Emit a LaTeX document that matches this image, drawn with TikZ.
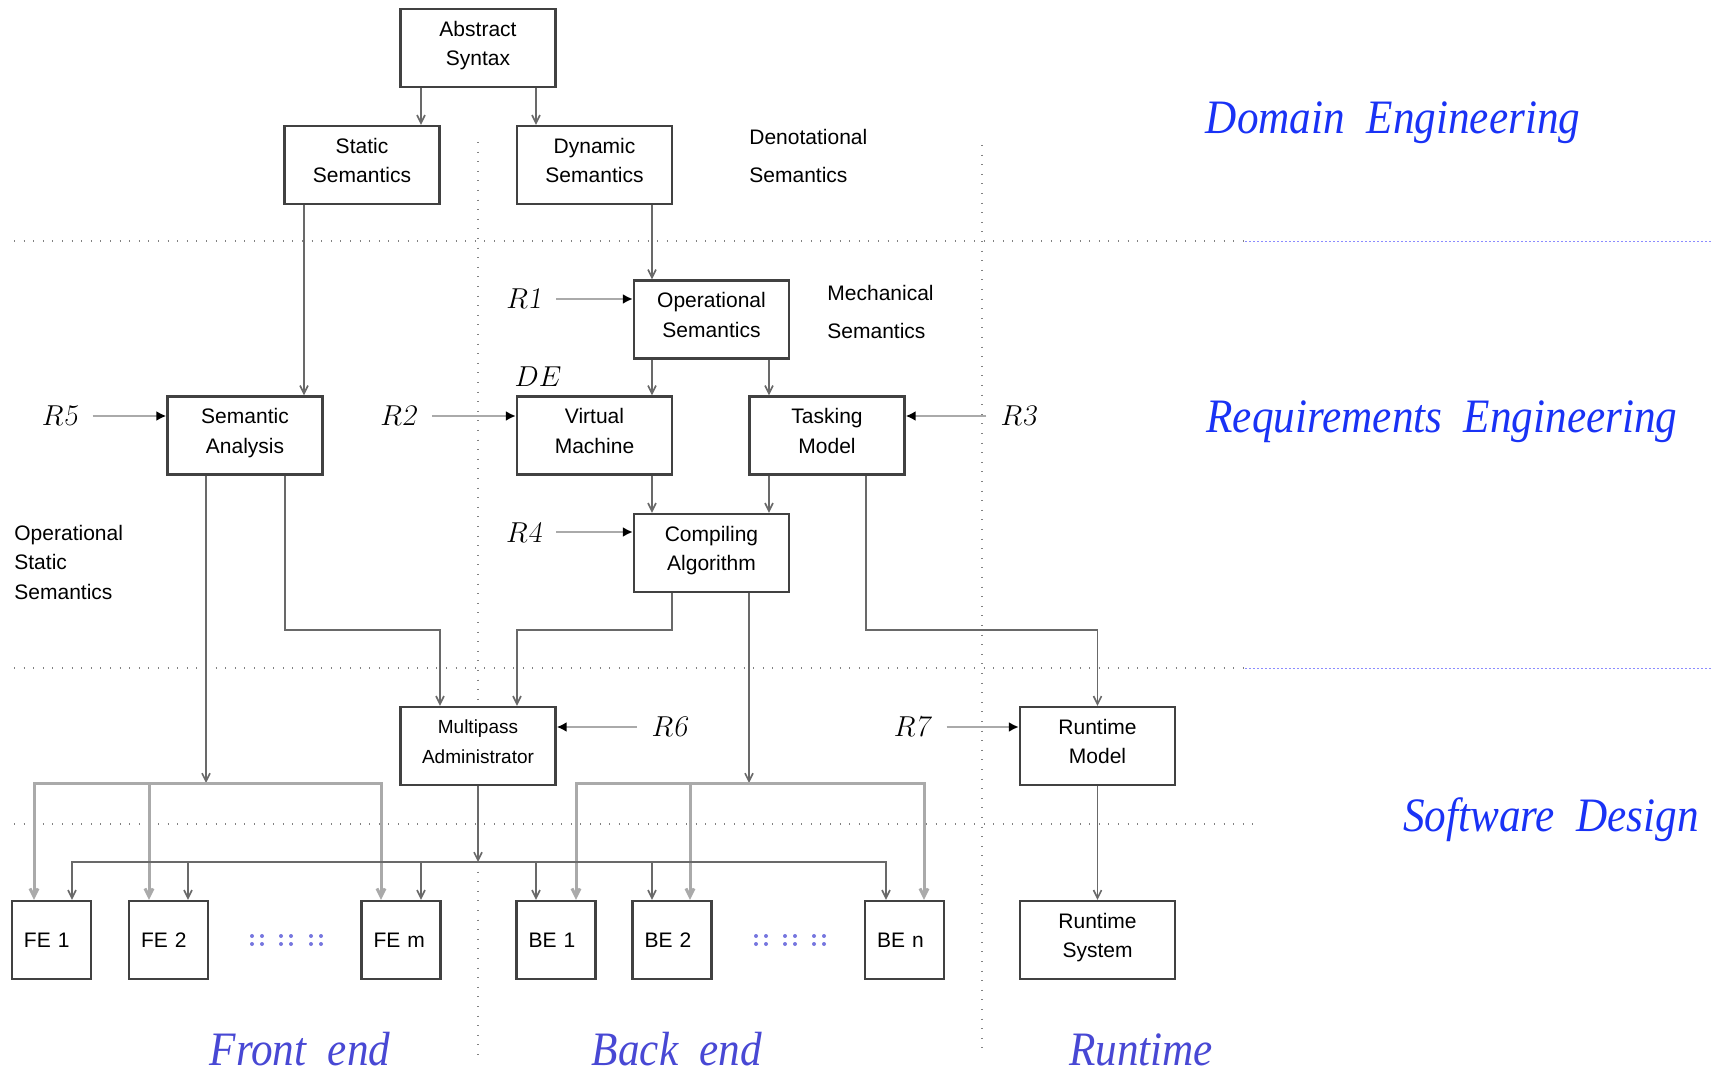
\documentclass[tikz,border=0pt]{standalone}
\usepackage{fontspec}
\usepackage{graphicx}
\setsansfont{Liberation Sans}
\newfontfamily\phasefont{Liberation Serif}
\usetikzlibrary{arrows.meta}

\definecolor{phaseblue}{RGB}{25,50,245}
\definecolor{partblue}{RGB}{72,72,212}
\definecolor{boxgray}{RGB}{65,65,65}
\definecolor{linegray}{RGB}{105,105,105}
\definecolor{busgray}{RGB}{170,170,170}
\definecolor{dotgray}{RGB}{130,130,130}

\newcommand{\narrow}[1]{\scalebox{0.9}[1]{#1}}
\newcommand{\req}[1]{$R$\textsl{#1}}

\begin{document}
\begin{tikzpicture}[x=0.5pt,y=-0.5pt,
  box/.style={draw=boxgray,line width=1.2pt,fill=white,inner sep=0pt,
    minimum width=77.5pt,minimum height=39pt,align=center,text depth=4.4pt,
    font=\sffamily\fontsize{10.5}{14.75}\selectfont},
  smallbox/.style={box,minimum width=39.5pt,text width=27.5pt,align=left,
    text depth=0pt},
  note/.style={anchor=west,inner sep=0pt,align=left},
  rlab/.style={inner sep=0pt,font=\fontsize{15}{18}\selectfont},
  phase/.style={anchor=base,inner sep=0pt,text=phaseblue,
    font=\phasefont\itshape\fontsize{24}{28}\selectfont},
  part/.style={phase,text=partblue},
  conn/.style={linegray,line width=0.8pt,-{Straight Barb[length=4pt,width=4pt]}},
  bus/.style={busgray,line width=1.5pt},
  busdrop/.style={bus,-{Straight Barb[length=4pt,width=4pt]}},
  rin/.style={busgray,line width=1.4pt,shorten <=7pt,
    -{Latex[length=5pt,width=5pt,color=black]}},
  hdots/.style={dotgray,line width=1.1pt,dash pattern=on 0.5pt off 4.3pt},
  bluedots/.style={blue!45,line width=0.4pt,dash pattern=on 1.2pt off 0.8pt}]
\useasboundingbox (0,0) rectangle (1713,1074);

% phase borders
\draw[hdots] (14,241) -- (1245,241);
\draw[bluedots] (1245,241) -- (1713,241);
\draw[hdots] (14,668) -- (1245,668);
\draw[bluedots] (1245,668) -- (1713,668);
\draw[hdots] (14,824) -- (1254,824);
\draw[hdots] (478,142) -- (478,1060);
\draw[hdots] (982,145) -- (982,1054);

% columns and rows for the connectors
\foreach \n/\x in {xa1/421,xa2/536,xs/304,xd/652,xt/769,xsa1/206,xsa2/285,
    xmp1/440,xmp2/517,xca1/672,xca2/749,xtm/866,
    f1/34,f2/149,f3/381,b1/576,b2/690,b3/924,
    g1/72,g2/188,g3/421,h1/536,h2/652,h3/886}
  \coordinate (\n) at (\x,0);
\coordinate (yroute) at (0,630);
\coordinate (ybus1) at (0,783);
\coordinate (ybus2) at (0,862);

% boxes
\node[box] (abs) at (478,48) {Abstract\\Syntax};
\node[box] (stat) at (362,165) {Static\\Semantics};
\node[box] (dyn) at (594.5,165) {Dynamic\\Semantics};
\node[box] (op) at (711.5,319.5) {Operational\\Semantics};
\node[box] (sa) at (245,435.5) {Semantic\\Analysis};
\node[box] (vm) at (594.5,435.5) {Virtual\\Machine};
\node[box] (tm) at (827,435.5) {Tasking\\Model};
\node[box] (ca) at (711.5,553) {Compiling\\Algorithm};
\node[box,font=\sffamily\fontsize{9.5}{14.75}\selectfont] (mp) at (478,746) {Multipass\\Administrator};
\node[box] (rm) at (1097.5,746) {Runtime\\Model};
\node[box] (rs) at (1097.5,940) {Runtime\\System};
\node[smallbox] (fe1) at (51.5,940) {FE 1};
\node[smallbox] (fe2) at (168.5,940) {FE 2};
\node[smallbox] (fem) at (401,940) {FE m};
\node[smallbox] (be1) at (556,940) {BE 1};
\node[smallbox] (be2) at (672,940) {BE 2};
\node[smallbox] (ben) at (904.5,940) {BE n};

% side notes
\node[note,font=\sffamily\fontsize{10.5}{19}\selectfont] (deno) at (749,156) {Denotational\\Semantics};
\node[note,font=\sffamily\fontsize{10.5}{19}\selectfont] (mech) at (827,312) {Mechanical\\Semantics};
\node[note,font=\sffamily\fontsize{10.5}{14.75}\selectfont] (opst) at (14,562) {Operational\\Static\\Semantics};
\node[rlab] (de) at (538,377) {$DE$};

% requirements
\node[rlab] (r1) at (524,299) {\req{1}};
\node[rlab] (r2) at (399,416) {\req{2}};
\node[rlab] (r3) at (1019,416) {\req{3}};
\node[rlab] (r4) at (524,532) {\req{4}};
\node[rlab] (r5) at (60,416) {\req{5}};
\node[rlab] (r6) at (670,727) {\req{6}};
\node[rlab] (r7) at (913,727) {\req{7}};
\draw[rin] (r1.east) -- (r1.east -| op.west);
\draw[rin] (r2.east) -- (r2.east -| vm.west);
\draw[rin] (r3.west) -- (r3.west -| tm.east);
\draw[rin] (r4.east) -- (r4.east -| ca.west);
\draw[rin] (r5.east) -- (r5.east -| sa.west);
\draw[rin] (r6.west) -- (r6.west -| mp.east);
\draw[rin] (r7.east) -- (r7.east -| rm.west);

% domain and requirements connectors
\draw[conn] (abs.south -| xa1) -- (stat.north -| xa1);
\draw[conn] (abs.south -| xa2) -- (dyn.north -| xa2);
\draw[conn] (stat.south -| xs) -- (sa.north -| xs);
\draw[conn] (dyn.south -| xd) -- (op.north -| xd);
\draw[conn] (op.south -| xd) -- (vm.north -| xd);
\draw[conn] (op.south -| xt) -- (tm.north -| xt);
\draw[conn] (vm.south -| xd) -- (ca.north -| xd);
\draw[conn] (tm.south -| xt) -- (ca.north -| xt);

% down to the software design
\draw[conn] (sa.south -| xsa2) |- (yroute -| xmp1) -- (mp.north -| xmp1);
\draw[conn] (ca.south -| xca1) |- (yroute -| xmp2) -- (mp.north -| xmp2);
\draw[conn] (tm.south -| xtm) |- (yroute -| rm) -- (rm.north);
\draw[conn] (sa.south -| xsa1) -- (ybus1 -| xsa1);
\draw[conn] (ca.south -| xca2) -- (ybus1 -| xca2);
\draw[conn] (mp.south) -- (ybus2 -| mp);
\draw[conn] (rm.south) -- (rs.north);

% front end and back end buses
\draw[bus,{Straight Barb[length=4pt,width=4pt]}-{Straight Barb[length=4pt,width=4pt]}]
  (fe1.north -| f1) |- (ybus1 -| f3) -- (fem.north -| f3);
\draw[busdrop] (ybus1 -| f2) -- (fe2.north -| f2);
\draw[bus,{Straight Barb[length=4pt,width=4pt]}-{Straight Barb[length=4pt,width=4pt]}]
  (be1.north -| b1) |- (ybus1 -| b3) -- (ben.north -| b3);
\draw[busdrop] (ybus1 -| b2) -- (be2.north -| b2);
\draw[conn,{Straight Barb[length=4pt,width=4pt]}-{Straight Barb[length=4pt,width=4pt]}]
  (fe1.north -| g1) |- (ybus2 -| h3) -- (ben.north -| h3);
\foreach \n/\c in {fe2/g2,fem/g3,be1/h1,be2/h2}
  \draw[conn] (ybus2 -| \c) -- (\n.north -| \c);

% more boxes
\foreach \x in {257,286,316,761,790,819}
  \foreach \dx/\dy in {-5/-4,5/-4,-5/4,5/4}
    \fill[partblue!75] (\x+\dx,940+\dy) circle (1pt);

% phases
\node[phase] (dom) at (1393,134) {\narrow{Domain\hspace{0.5em}Engineering}};
\node[phase] (req) at (1442,433) {\narrow{Requirements\hspace{0.5em}Engineering}};
\node[phase] (sw) at (1551,831) {\narrow{Software\hspace{0.5em}Design}};
\node[part] (front) at (300,1065) {\narrow{Front\hspace{0.5em}end}};
\node[part] (back) at (677,1065) {\narrow{Back\hspace{0.5em}end}};
\node[part] (run) at (1141,1065) {\narrow{Runtime}};
\end{tikzpicture}
\end{document}
